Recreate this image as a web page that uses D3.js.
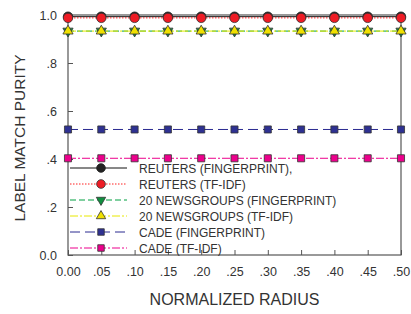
<!DOCTYPE html>
<html>
<head>
<meta charset="utf-8">
<script src="https://cdn.jsdelivr.net/npm/d3@7"></script>
<style>
  html, body { margin: 0; padding: 0; background: #fff; }
  svg { display: block; font-family: Arial, "Liberation Sans", sans-serif; }
</style>
</head>
<body>
<div id="chart"></div>
<script>
const radius = [0, 0.05, 0.10, 0.15, 0.20, 0.25, 0.30, 0.35, 0.40, 0.45, 0.50]
const xTickLabels = ['0.00', '.05', '.10', '.15', '.20', '.25', '.30', '.35', '.40', '.45', '.50']
const yTicks = [0, 0.2, 0.4, 0.6, 0.8, 1.0]
const yTickLabels = ['0.0', '.2', '.4', '.6', '.8', '1.0']

const reutersFp = [0.993, 0.993, 0.993, 0.993, 0.993, 0.993, 0.993, 0.993, 0.993, 0.993, 0.993]
const reutersTfidf = [0.988, 0.988, 0.988, 0.988, 0.988, 0.988, 0.988, 0.988, 0.988, 0.988, 0.988]
const newsFp = [0.933, 0.933, 0.933, 0.933, 0.933, 0.933, 0.933, 0.933, 0.933, 0.933, 0.933]
const newsTfidf = [0.933, 0.933, 0.933, 0.933, 0.933, 0.933, 0.933, 0.933, 0.933, 0.933, 0.933]
const cadeFp = [0.523, 0.523, 0.523, 0.523, 0.523, 0.523, 0.523, 0.523, 0.523, 0.523, 0.523]
const cadeTfidf = [0.403, 0.403, 0.403, 0.403, 0.403, 0.403, 0.403, 0.403, 0.403, 0.403, 0.403]

const seriesNames = ['REUTERS (FINGERPRINT),', 'REUTERS (TF-IDF)', '20 NEWSGROUPS (FINGERPRINT)',
  '20 NEWSGROUPS (TF-IDF)', 'CADE (FINGERPRINT)', 'CADE (TF-IDF)']

const series = [
  { name: seriesNames[0], values: reutersFp, stroke: '#111', dash: null, fill: '#222', shape: d3.symbolCircle, size: 70, mstroke: '#222' },
  { name: seriesNames[1], values: reutersTfidf, stroke: '#ff2020', dash: '1.5,1.5', fill: '#ee1c25', shape: d3.symbolCircle, size: 70, mstroke: '#333' },
  { name: seriesNames[2], values: newsFp, stroke: '#00a040', dash: '6,3', fill: '#109040', shape: 'down', size: 45, mstroke: '#333' },
  { name: seriesNames[3], values: newsTfidf, stroke: '#e8e800', dash: '8,2,2,2', fill: '#f0e000', shape: d3.symbolTriangle, size: 45, mstroke: '#333' },
  { name: seriesNames[4], values: cadeFp, stroke: '#2a2a90', dash: '10,5', fill: '#2e3192', shape: d3.symbolSquare, size: 50, mstroke: '#333' },
  { name: seriesNames[5], values: cadeTfidf, stroke: '#ec008c', dash: '8,2,2,2', fill: '#ec008c', shape: d3.symbolSquare, size: 50, mstroke: '#333' }
]

const W = 411, H = 314
const M = { top: 15, right: 10, bottom: 59, left: 68 }

const svg = d3.select('#chart').append('svg').attr('width', W).attr('height', H)

const x = d3.scaleLinear().domain([0, 0.5]).range([M.left, W - M.right])
const y = d3.scaleLinear().domain([0, 1]).range([H - M.bottom, M.top])

// ── Frame ────────────────────────────────────────────────────────────────
const axisColor = '#555'
svg.append('rect')
  .attr('x', x(0)).attr('y', y(1))
  .attr('width', x(0.5) - x(0)).attr('height', y(0) - y(1))
  .attr('fill', 'none').attr('stroke', axisColor).attr('stroke-width', 1.2)

// ── Axes (inner ticks) ───────────────────────────────────────────────────
const xAxis = svg.append('g').attr('transform', `translate(0,${y(0)})`)
  .call(d3.axisBottom(x).tickValues(radius).tickSize(-5).tickPadding(12).tickFormat((d, i) => xTickLabels[i]))
const yAxis = svg.append('g').attr('transform', `translate(${x(0)},0)`)
  .call(d3.axisLeft(y).tickValues(yTicks).tickSize(-5).tickPadding(11).tickFormat((d, i) => yTickLabels[i]))

;[xAxis, yAxis].forEach(a => {
  a.select('.domain').remove()
  a.selectAll('.tick line').attr('stroke', axisColor)
  a.selectAll('.tick text').attr('fill', '#333').style('font-size', '12.5px').attr('font-family', 'Arial, "Liberation Sans", sans-serif')
})

// ── Lines & markers ──────────────────────────────────────────────────────
const line = d3.line().x((d, i) => x(radius[i])).y(d => y(d))

function markerPath(s, scale = 1) {
  const shape = s.shape === 'down' ? d3.symbolTriangle : s.shape
  return d3.symbol(shape, s.size * scale)()
}

series.forEach(s => {
  svg.append('path')
    .attr('d', line(s.values))
    .attr('fill', 'none')
    .attr('stroke', s.stroke)
    .attr('stroke-width', 1)
    .attr('stroke-dasharray', s.dash)
})

series.forEach(s => {
  svg.selectAll(null)
    .data(s.values)
    .join('path')
    .attr('d', markerPath(s))
    .attr('transform', (d, i) => `translate(${x(radius[i])},${y(d)})${s.shape === 'down' ? ' rotate(180)' : ''}`)
    .attr('fill', s.fill)
    .attr('stroke', s.mstroke)
    .attr('stroke-width', 0.8)
})

// ── Legend ───────────────────────────────────────────────────────────────
const legendRows = [168, 184, 200, 216, 232, 248]
const legend = svg.append('g')
series.forEach((s, i) => {
  const ly = legendRows[i]
  legend.append('line')
    .attr('x1', 70).attr('x2', 127).attr('y1', ly).attr('y2', ly)
    .attr('stroke', s.stroke).attr('stroke-width', 1)
    .attr('stroke-dasharray', s.dash)
  legend.append('path')
    .attr('d', markerPath(s, 0.85))
    .attr('transform', `translate(101,${ly})${s.shape === 'down' ? ' rotate(180)' : ''}`)
    .attr('fill', s.fill).attr('stroke', s.mstroke).attr('stroke-width', 0.8)
  legend.append('text')
    .attr('x', 139).attr('y', ly + 4.5)
    .text(s.name)
    .attr('fill', '#333')
    .style('font-size', '12px')
})

// ── Axis titles ──────────────────────────────────────────────────────────
svg.append('text')
  .attr('x', (x(0) + x(0.5)) / 2).attr('y', 305)
  .attr('text-anchor', 'middle')
  .attr('fill', '#333')
  .style('font-size', '16px')
  .text('NORMALIZED RADIUS')

svg.append('text')
  .attr('transform', `translate(25,138) rotate(-90)`)
  .attr('text-anchor', 'middle')
  .attr('fill', '#333')
  .style('font-size', '15.5px')
  .text('LABEL MATCH PURITY')
</script>
</body>
</html>
